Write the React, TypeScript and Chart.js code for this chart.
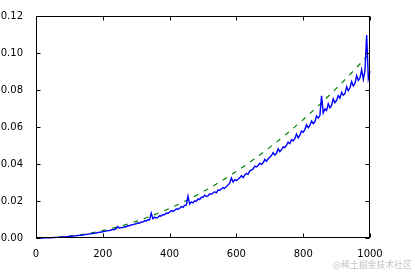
import React, { useEffect, useRef } from "react";
import { Chart, registerables } from "chart.js";

Chart.register(...registerables);

// Measured series: sampled every 5 units of x
const blueStep = 5;
const blueValues = [
  0, 0.000003, 0.00001, 0.00002, 0.00003, 0.00005, 0.00008, 0.0001, 0.00013, 0.00017,
  0.00021, 0.00025, 0.00031, 0.00035, 0.00042, 0.00047, 0.00055, 0.00061, 0.0007, 0.00076,
  0.00086, 0.00095, 0.00101, 0.00114, 0.0012, 0.00135, 0.00141, 0.00158, 0.00164, 0.00182,
  0.00191, 0.00208, 0.00216, 0.00236, 0.00244, 0.00262, 0.00271, 0.00294, 0.00301, 0.00326,
  0.0034, 0.0036, 0.0037, 0.004, 0.004, 0.0043, 0.0045, 0.0046, 0.005, 0.0062,
  0.0053, 0.0057, 0.0056, 0.0061, 0.0061, 0.0066, 0.0066, 0.0072, 0.0071, 0.0075,
  0.0077, 0.0082, 0.008, 0.0087, 0.0086, 0.0093, 0.0092, 0.0099, 0.0098, 0.0134,
  0.0104, 0.0113, 0.0108, 0.0112, 0.012, 0.0119, 0.0127, 0.0126, 0.0135, 0.0133,
  0.0139, 0.0148, 0.0144, 0.0149, 0.0158, 0.0155, 0.0161, 0.017, 0.0166, 0.0176,
  0.0178, 0.0226, 0.0183, 0.0195, 0.019, 0.0201, 0.0198, 0.0211, 0.0207, 0.022,
  0.022, 0.0231, 0.0224, 0.0228, 0.0239, 0.0236, 0.0243, 0.025, 0.0244, 0.0259,
  0.0258, 0.0265, 0.0272, 0.0268, 0.0279, 0.0287, 0.0296, 0.0324, 0.0302, 0.0315,
  0.031, 0.0318, 0.0325, 0.0337, 0.0326, 0.0341, 0.0349, 0.0344, 0.0362, 0.0368,
  0.0372, 0.0388, 0.0384, 0.0392, 0.0404, 0.0398, 0.0406, 0.0425, 0.0414, 0.0428,
  0.0436, 0.0446, 0.0462, 0.0448, 0.0458, 0.0482, 0.0466, 0.0478, 0.0492, 0.0488,
  0.0502, 0.0518, 0.051, 0.0532, 0.0524, 0.0538, 0.0562, 0.0541, 0.0556, 0.0578,
  0.0572, 0.0586, 0.0612, 0.0596, 0.0608, 0.0632, 0.0618, 0.0628, 0.066, 0.0648,
  0.0662, 0.0768, 0.0676, 0.0698, 0.069, 0.0726, 0.0704, 0.0716, 0.0752, 0.0732,
  0.0744, 0.077, 0.0756, 0.0788, 0.0772, 0.078, 0.0818, 0.0796, 0.0812, 0.0846,
  0.0822, 0.0835, 0.0878, 0.0852, 0.0866, 0.091, 0.0858, 0.0905, 0.1097, 0.0862,
  0.0902,
];

// Fitted (dashed) curve, sampled every 50 units of x
const fitN = [0, 50, 100, 150, 200, 250, 300, 350, 400, 450, 500, 550, 600, 650, 700, 750, 800, 850, 900, 950, 1000];
const fitValues = [
  0, 0.00025, 0.001, 0.00225, 0.004, 0.00625, 0.009, 0.01225, 0.016, 0.02025, 0.025,
  0.03025, 0.036, 0.04225, 0.049, 0.05625, 0.064, 0.07225, 0.081, 0.09025, 0.1,
];

const xTicks = [0, 200, 400, 600, 800, 1000];
const yTicks = [0, 0.02, 0.04, 0.06, 0.08, 0.1, 0.12];

const watermark = "@稀土掘金技术社区";

const frameTicks = {
  id: "frameTicks",
  afterDatasetsDraw(chart: any) {
    const { ctx, chartArea: a, scales } = chart;
    const x = scales.x;
    const y = scales.y;
    const L = Math.round(a.left) + 0.5;
    const R = Math.round(a.right) - 0.5;
    const T = Math.round(a.top) + 0.5;
    const B = Math.round(a.bottom) - 0.5;
    ctx.save();
    ctx.strokeStyle = "#000";
    ctx.lineWidth = 1;
    ctx.beginPath();
    xTicks.forEach((v) => {
      const px = Math.round(x.getPixelForValue(v)) + 0.5;
      ctx.moveTo(px, B);
      ctx.lineTo(px, B - 4);
      ctx.moveTo(px, T);
      ctx.lineTo(px, T + 4);
    });
    yTicks.forEach((v) => {
      const py = Math.round(y.getPixelForValue(v)) + 0.5;
      ctx.moveTo(L, py);
      ctx.lineTo(L + 4, py);
      ctx.moveTo(R, py);
      ctx.lineTo(R - 4, py);
    });
    ctx.stroke();
    ctx.strokeRect(L, T, R - L, B - T);
    ctx.restore();
  },
};

export default function App() {
  const ref = useRef<HTMLCanvasElement>(null);

  useEffect(() => {
    if (!ref.current) return;
    const blueData = blueValues.map((v, i) => ({ x: i * blueStep, y: v }));
    const fitData = fitValues.map((v, i) => ({ x: fitN[i], y: v }));
    const font = { family: "'DejaVu Sans', sans-serif", size: 10 };
    const chart = new Chart(ref.current, {
      type: "line",
      data: {
        datasets: [
          {
            data: blueData,
            borderColor: "#0000ff",
            borderWidth: 1.4,
            pointRadius: 0,
            tension: 0,
            fill: false,
            clip: false,
          },
          {
            data: fitData,
            borderColor: "#008000",
            borderWidth: 1.2,
            borderDash: [5, 6],
            pointRadius: 0,
            cubicInterpolationMode: "monotone",
            fill: false,
          },
        ],
      },
      options: {
        responsive: false,
        animation: false,
        events: [],
        layout: { padding: { left: 0, top: 16, right: 45, bottom: 0 } },
        plugins: { legend: { display: false }, tooltip: { enabled: false } },
        scales: {
          x: {
            type: "linear",
            min: 0,
            max: 1000,
            grid: { display: false },
            border: { display: false },
            ticks: {
              stepSize: 200,
              color: "#000",
              font,
              padding: 2,
              maxRotation: 0,
              autoSkip: false,
              callback: (v: any) => String(v),
            },
            afterFit(scale: any) {
              scale.height = 35;
            },
          },
          y: {
            type: "linear",
            min: 0,
            max: 0.12,
            grid: { display: false },
            border: { display: false },
            ticks: {
              stepSize: 0.02,
              color: "#000",
              font,
              padding: 5,
              callback: (v: any) => Number(v).toFixed(2),
            },
            afterFit(scale: any) {
              scale.width = 36;
            },
          },
        },
      },
      plugins: [frameTicks],
    } as any);
    return () => chart.destroy();
  }, []);

  return (
    <div style={{ position: "absolute", left: 0, top: 0, width: 415, height: 273, background: "#fff" }}>
      <canvas ref={ref} width={415} height={273} style={{ width: 415, height: 273, display: "block" }} />
      <span
        style={{
          position: "absolute",
          left: 333,
          top: 259,
          fontFamily: "'Noto Sans CJK SC', sans-serif",
          fontSize: 8.8,
          lineHeight: "11px",
          color: "#c4c4c4",
          whiteSpace: "nowrap",
        }}
      >
        {watermark}
      </span>
    </div>
  );
}
